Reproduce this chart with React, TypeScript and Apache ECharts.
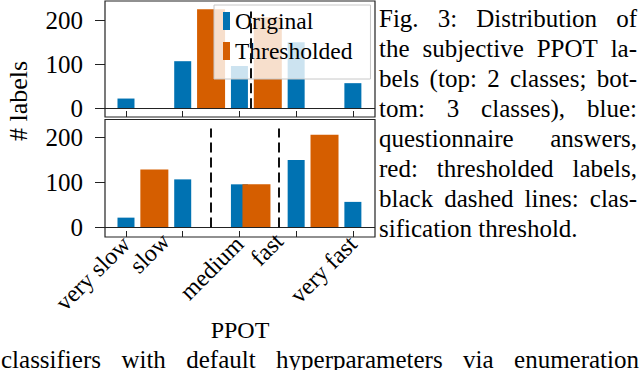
import React, { useEffect, useRef } from 'react';
import * as echarts from 'echarts';

// ---------------- data ----------------
const categories = ['very slow', 'slow', 'medium', 'fast', 'very fast'];
const categoryPositions = [0, 1, 2, 3, 4];
const originalCounts = [22, 107, 96, 150, 57];
const twoClassPositions = [1.5, 2.5];
const twoClassCounts = [225, 207];
const threeClassPositions = [0.5, 2.3, 3.5];
const threeClassCounts = [129, 96, 206];
const twoClassThresholds = [2.2];
const threeClassThresholds = [1.5, 2.7];
const thresholdLineTop = 220;
const yTickValues = [0, 100, 200];
// tick labels: the outer/middle labels sit at their ticks, "slow" and "fast" are set a little to the left
const mainLabelIdx = [0, 2, 4];
const shiftedLabelIdx = [1, 3];
const shiftedLabelOffset = -0.3;
const captionLines = [
  'Fig. 3: Distribution of',
  'the subjective PPOT la-',
  'bels (top: 2 classes; bot-',
  'tom: 3 classes), blue:',
  'questionnaire answers,',
  'red: thresholded labels,',
  'black dashed lines: clas-',
  'sification threshold.',
];
const bodyLine = 'classifiers with default hyperparameters via enumeration';

// ---------------- styles ----------------
const FONT = 'Liberation Serif';
const BLUE = '#0072B2';
const ORANGE = '#D55E00';

function textElems(line: string, x0: number, x1: number, baseline: number, fs: number, justify: boolean, ctx: CanvasRenderingContext2D) {
  ctx.font = `${fs}px "Liberation Serif"`;
  const words = line.split(' ');
  const widths = words.map((w) => ctx.measureText(w).width);
  const total = widths.reduce((a, b) => a + b, 0);
  const space = justify && words.length > 1 ? (x1 - x0 - total) / (words.length - 1) : ctx.measureText(' ').width;
  let x = x0;
  const out: any[] = [];
  words.forEach((w, i) => {
    out.push({
      type: 'text',
      x,
      y: baseline - fs * 0.34,
      silent: true,
      style: { text: w, fontFamily: FONT, fontSize: fs, fill: '#000', align: 'left', verticalAlign: 'middle' },
    });
    x += widths[i] + space;
  });
  return out;
}

export default function App() {
  const ref = useRef<HTMLDivElement>(null);
  useEffect(() => {
    if (!ref.current) return;
    const chart = echarts.init(ref.current, null, { renderer: 'svg' });
    const ctx = document.createElement('canvas').getContext('2d') as CanvasRenderingContext2D;

    const graphics: any[] = [];
    captionLines.forEach((l, i) => {
      graphics.push(...textElems(l, 379, 637, 27 + i * 30, 25, i < captionLines.length - 1, ctx));
    });
    graphics.push(...textElems(bodyLine, 1, 639, 368, 25, true, ctx));
    graphics.push({
      type: 'text',
      x: 18,
      y: 101,
      rotation: Math.PI / 2,
      silent: true,
      style: { text: '# labels', fontFamily: FONT, fontSize: 26, fill: '#000', align: 'center', verticalAlign: 'middle' },
    });

    const xRange = { min: -0.37, max: 4.39 };
    const labelFor = (v: number) => {
      const i = Math.round(v);
      if (Math.abs(v - i) < 1e-6) return categories[i] ?? '';
      const j = Math.round(v - shiftedLabelOffset);
      return categories[j] ?? '';
    };
    const labelStyle = (values: number[], margin: number) => ({
      show: true,
      customValues: values,
      hideOverlap: false,
      showMinLabel: true,
      showMaxLabel: true,
      rotate: 45,
      margin,
      fontFamily: FONT,
      fontSize: 24,
      color: '#000',
      formatter: labelFor,
    });
    const xVisible = (gridIndex: number, labels: boolean) => ({
      type: 'value',
      gridIndex,
      position: 'bottom',
      offset: 0,
      ...xRange,
      axisLine: { show: false, onZero: false },
      splitLine: { show: false },
      axisTick: { show: true, inside: true, length: 6, customValues: categoryPositions, lineStyle: { color: '#222', width: 1 } },
      axisLabel: labels ? labelStyle(mainLabelIdx.map((i) => categoryPositions[i]), 3) : { show: false },
      name: labels ? 'PPOT' : '',
      nameLocation: 'middle',
      nameGap: 80,
      nameTextStyle: { fontFamily: FONT, fontSize: 24, color: '#000' },
    });
    const xHidden = (gridIndex: number, labels: boolean) => ({
      type: 'value',
      gridIndex,
      position: 'bottom',
      offset: 0,
      ...xRange,
      show: labels,
      axisLine: { show: false, onZero: false },
      axisTick: { show: false },
      splitLine: { show: false },
      axisLabel: labels ? labelStyle(shiftedLabelIdx.map((i) => categoryPositions[i] + shiftedLabelOffset), 0) : { show: false },
    });
    const yAxis = (gridIndex: number, min: number, max: number) => ({
      type: 'value',
      gridIndex,
      position: 'left',
      min,
      max,
      axisLine: { show: false, onZero: false },
      splitLine: { show: false },
      axisTick: { show: true, inside: false, length: 10, customValues: yTickValues, lineStyle: { color: '#222', width: 1 } },
      axisLabel: { show: true, customValues: yTickValues, margin: 22, fontFamily: FONT, fontSize: 25, color: '#000' },
    });

    const zeroLine = { yAxis: 0, lineStyle: { type: 'solid', color: '#222', width: 1.2 } };
    const thresholdLines = (xs: number[]) =>
      xs.map((x) => [
        { coord: [x, 0], lineStyle: { type: [10, 5], color: '#111', width: 2 } },
        { coord: [x, thresholdLineTop] },
      ]);
    const pairs = (xs: number[], ys: number[]) => xs.map((x, i) => [x, ys[i]]);

    chart.setOption({
      animation: false,
      backgroundColor: '#fff',
      textStyle: { fontFamily: FONT },
      graphic: graphics,
      legend: {
        data: ['Original', 'Thresholded'],
        orient: 'vertical',
        left: 214,
        top: 5,
        icon: 'rect',
        itemWidth: 7,
        itemHeight: 18,
        itemGap: 6,
        padding: [4, 18, 16, 9],
        backgroundColor: 'rgba(255,255,255,0.8)',
        borderColor: '#c8c8c8',
        borderWidth: 1,
        selectedMode: false,
        textStyle: { fontFamily: FONT, fontSize: 23.5, color: '#000' },
      },
      grid: [
        { left: 105, top: 1, width: 270, height: 116, show: true, borderColor: '#222', borderWidth: 1.2, backgroundColor: 'transparent' },
        { left: 105, top: 119.5, width: 270, height: 117.5, show: true, borderColor: '#222', borderWidth: 1.2, backgroundColor: 'transparent' },
      ],
      xAxis: [xVisible(0, false), xHidden(0, false), xVisible(1, true), xHidden(1, true)],
      yAxis: [yAxis(0, -20, 244), yAxis(1, -21, 240)],
      series: [
        {
          type: 'bar', name: 'Original', xAxisIndex: 0, yAxisIndex: 0, barWidth: 17,
          itemStyle: { color: BLUE }, data: pairs(categoryPositions, originalCounts),
          markLine: { silent: true, symbol: 'none', label: { show: false }, data: [zeroLine] },
        },
        {
          type: 'bar', name: 'Thresholded', xAxisIndex: 1, yAxisIndex: 0, barWidth: 28,
          itemStyle: { color: ORANGE }, data: pairs(twoClassPositions, twoClassCounts),
          markLine: { silent: true, symbol: 'none', label: { show: false }, data: thresholdLines(twoClassThresholds) },
        },
        {
          type: 'bar', name: 'Original', xAxisIndex: 2, yAxisIndex: 1, barWidth: 17,
          itemStyle: { color: BLUE }, data: pairs(categoryPositions, originalCounts),
          markLine: { silent: true, symbol: 'none', label: { show: false }, data: [zeroLine] },
        },
        {
          type: 'bar', name: 'Thresholded', xAxisIndex: 3, yAxisIndex: 1, barWidth: 28,
          itemStyle: { color: ORANGE }, data: pairs(threeClassPositions, threeClassCounts),
          markLine: { silent: true, symbol: 'none', label: { show: false }, data: thresholdLines(threeClassThresholds) },
        },
      ],
    });
    return () => chart.dispose();
  }, []);
  return (
    <div
      ref={ref}
      style={{ position: 'fixed', left: 0, top: 0, width: 640, height: 370, background: '#fff' }}
    />
  );
}
